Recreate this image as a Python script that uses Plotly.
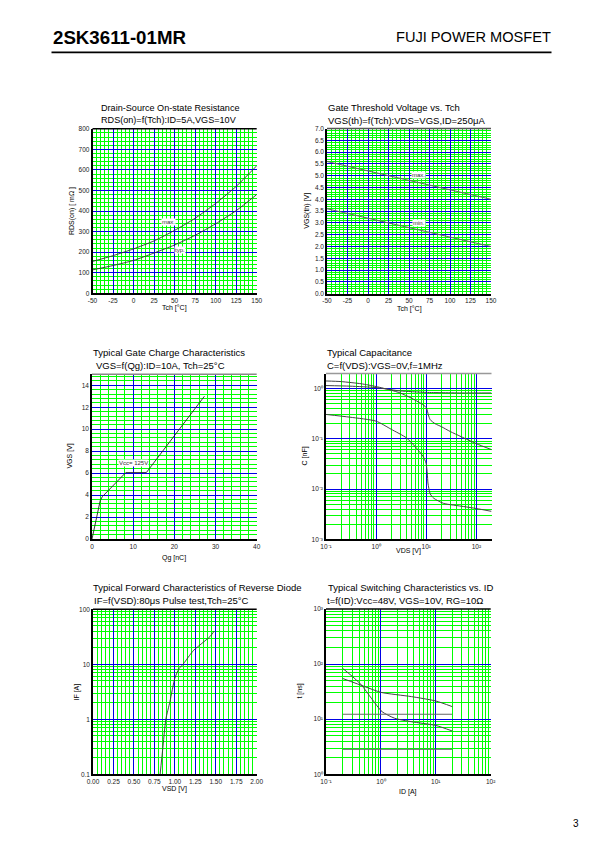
import plotly.graph_objects as go
import numpy as np

# ---------------- data ----------------
# 1) RDS(on) vs Tch
p1_tch = [-50, -25, 0, 25, 50, 75, 100, 125, 150]
p1_max = [155, 183, 216, 255, 306, 365, 437, 520, 620]
p1_typ = [114, 135, 160, 196, 235, 282, 338, 402, 480]

# 2) VGS(th) vs Tch
p2_tch = [-50, 0, 50, 100, 150]
p2_max = [5.6, 5.2, 4.8, 4.4, 4.0]
p2_min = [3.6, 3.2, 2.8, 2.4, 2.0]

# 3) Gate charge
p3_qg = [0, 1.0, 2.0, 2.5, 3.0, 8.2, 13.2, 20.0, 27.3]
p3_vgs = [0, 1.9, 3.5, 3.85, 4.05, 6.05, 6.05, 9.45, 13.0]

# 4) Capacitance
p4_vds_ciss = [0.1, 0.3, 1, 2, 3, 5, 10, 20, 50, 100, 200]
p4_ciss = [1.15, 1.12, 1.05, 0.95, 0.9, 0.87, 0.84, 0.83, 0.82, 0.82, 0.82]
p4_vds_coss = [0.1, 0.2, 0.5, 1, 2, 3, 5, 8, 10, 11, 12, 15, 20, 30, 50, 100, 200]
p4_coss = [1.42, 1.38, 1.25, 1.1, 0.93, 0.82, 0.65, 0.5, 0.42, 0.3, 0.24, 0.2, 0.175, 0.14, 0.11, 0.08, 0.061]
p4_vds_crss = [0.1, 0.3, 1, 2, 4, 6, 8.6, 9.9, 10.5, 10.8, 12, 14, 22, 55, 100, 200]
p4_crss = [0.306, 0.27, 0.225, 0.155, 0.105, 0.07, 0.045, 0.033, 0.02, 0.0132, 0.008, 0.0066, 0.0052, 0.0045, 0.0041, 0.0036]

# 5) Diode forward
p5_vsd = [0.82, 0.85, 0.89, 0.94, 1.0, 1.05, 1.1, 1.18, 1.23, 1.33, 1.43, 1.48]
p5_if = [0.1, 0.27, 1.0, 2.1, 5.6, 8.3, 10, 14.5, 18, 24, 32, 40]

# 6) Switching
p6_id_tf = [0.2, 0.3, 0.44, 0.67, 1.05, 1.78, 3.6, 10, 20]
p6_tf = [84, 60, 42, 24, 13.7, 10.4, 9.0, 7.7, 6.1]
p6_id_tdoff = [0.2, 0.51, 1.0, 3.6, 10, 20]
p6_tdoff = [55, 39, 30.7, 25.7, 21.4, 16.9]
p6_id_flat = [0.2, 20]
p6_tdon = [12.3, 12.3]
p6_tr = [2.84, 2.84]

# tick labels
tch_ticks = [-50, -25, 0, 25, 50, 75, 100, 125, 150]
tch_text = ["-50", "-25", "0", "25", "50", "75", "100", "125", "150"]
p1_yticks = [0, 100, 200, 300, 400, 500, 600, 700, 800]
p2_yticks = [0.0, 0.5, 1.0, 1.5, 2.0, 2.5, 3.0, 3.5, 4.0, 4.5, 5.0, 5.5, 6.0, 6.5, 7.0]
p2_ytext = ["%.1f" % v for v in p2_yticks]
p3_xticks = [0, 10, 20, 30, 40]
p3_yticks = [0, 2, 4, 6, 8, 10, 12, 14]
p4_xticks = [0.1, 1, 10, 100]
p4_xtext = ["10⁻¹", "10⁰", "10¹", "10²"]
p4_yticks = [0.001, 0.01, 0.1, 1]
p4_ytext = ["10⁻³", "10⁻²", "10⁻¹", "10⁰"]
p5_xticks = [0, 0.25, 0.5, 0.75, 1.0, 1.25, 1.5, 1.75, 2.0]
p5_xtext = ["%.2f" % v for v in p5_xticks]
p5_yticks = [0.1, 1, 10, 100]
p5_ytext = ["0.1", "1", "10", "100"]
p6_xticks = [0.1, 1, 10, 100]
p6_xtext = ["10⁻¹", "10⁰", "10¹", "10²"]
p6_yticks = [1, 10, 100, 1000]
p6_ytext = ["10⁰", "10¹", "10²", "10³"]

# ---------------- layout helpers ----------------
W, H = 595, 842
FONT = "Liberation Sans, Arial, Helvetica, sans-serif"
GREEN = "#00ff00"
BLUE = "#0000e6"
TICKF = dict(family=FONT, size=6.5, color="#222")
TS = 9.5  # chart title size


def px(x):
    return x / W


def py(y):
    return 1 - y / H


def log_minor(lo, hi):
    vals = []
    for e in range(lo, hi + 1):
        for d in range(2, 10):
            vals.append(d * 10.0 ** e)
    return vals


boxes = {
    1: (92.5, 256.7, 128.8, 293.3),
    2: (327.0, 491.0, 128.5, 293.7),
    3: (92.0, 256.7, 374.3, 539.0),
    4: (326.0, 491.5, 373.5, 539.3),
    5: (93.0, 256.7, 609.3, 774.3),
    6: (326.0, 490.7, 609.0, 774.3),
}

fig = go.Figure()
layout = dict(
    width=W, height=H, margin=dict(l=0, r=0, t=0, b=0, pad=0), autosize=False,
    paper_bgcolor="white", plot_bgcolor="white", showlegend=False,
    font=dict(family=FONT, color="#000"),
)


def axis_common():
    return dict(showline=True, linecolor="black", linewidth=1.5, ticks="",
                tickfont=TICKF, showgrid=True, gridcolor=BLUE, gridwidth=1.3,
                zeroline=False, tickmode="array", fixedrange=True, automargin=False)


def set_axes(i, xa, ya):
    l, r, t, b = boxes[i]
    sfx = "" if i == 1 else str(i)
    xa.update(domain=[px(l), px(r)], anchor="y" + sfx)
    ya.update(domain=[py(b), py(t)], anchor="x" + sfx)
    layout["xaxis" + sfx] = xa
    layout["yaxis" + sfx] = ya


def lin_minor(dt):
    return dict(dtick=dt, showgrid=True, gridcolor=GREEN, gridwidth=1.2, ticks="")


def list_minor(vals):
    return dict(tickmode="array", tickvals=vals, showgrid=True, gridcolor=GREEN, gridwidth=1.2, ticks="")


# plot 1
xa = axis_common(); ya = axis_common()
xa.update(range=[-50, 150], tickvals=tch_ticks, ticktext=tch_text, minor=lin_minor(5))
ya.update(range=[0, 800], tickvals=p1_yticks, minor=lin_minor(20))
set_axes(1, xa, ya)
# plot 2
xa = axis_common(); ya = axis_common()
xa.update(range=[-50, 150], tickvals=tch_ticks, ticktext=tch_text, minor=lin_minor(5))
ya.update(range=[0, 7], tickvals=p2_yticks, ticktext=p2_ytext, minor=lin_minor(0.1))
set_axes(2, xa, ya)
# plot 3
xa = axis_common(); ya = axis_common()
xa.update(range=[0, 40], tickvals=p3_xticks, minor=lin_minor(2))
ya.update(range=[0, 15], tickvals=p3_yticks, minor=lin_minor(0.4))
set_axes(3, xa, ya)
# plot 4
xa = axis_common(); ya = axis_common()
xa.update(type="log", range=[-1, np.log10(200)], tickvals=p4_xticks, ticktext=p4_xtext,
          minor=list_minor(log_minor(-1, 2)))
ya.update(type="log", range=[-3, np.log10(2)], tickvals=p4_yticks, ticktext=p4_ytext,
          minor=list_minor(log_minor(-3, 0)))
set_axes(4, xa, ya)
# plot 5
xa = axis_common(); ya = axis_common()
xa.update(range=[0, 2], tickvals=p5_xticks, ticktext=p5_xtext, minor=lin_minor(0.05))
ya.update(type="log", range=[-1, 2], tickvals=p5_yticks, ticktext=p5_ytext,
          minor=list_minor(log_minor(-1, 1)))
set_axes(5, xa, ya)
# plot 6
xa = axis_common(); ya = axis_common()
xa.update(type="log", range=[-1, 2], tickvals=p6_xticks, ticktext=p6_xtext,
          minor=list_minor(log_minor(-1, 1)))
ya.update(type="log", range=[0, 3], tickvals=p6_yticks, ticktext=p6_ytext,
          minor=list_minor(log_minor(0, 2)))
set_axes(6, xa, ya)


def add_line(i, x, y, color="#333", width=1.0, shape="spline"):
    sfx = "" if i == 1 else str(i)
    fig.add_trace(go.Scatter(x=x, y=y, mode="lines", xaxis="x" + sfx, yaxis="y" + sfx,
                             line=dict(color=color, width=width, shape=shape, smoothing=0.6),
                             hoverinfo="skip"))


add_line(1, p1_tch, p1_max, "#333", 0.9)
add_line(1, p1_tch, p1_typ, "#333", 0.9)
add_line(2, p2_tch, p2_max, "#666", 1.1, "linear")
add_line(2, p2_tch, p2_min, "#666", 1.1, "linear")
add_line(3, p3_qg, p3_vgs, "#222", 0.9, "linear")
add_line(4, p4_vds_ciss, p4_ciss, "#444", 1.0)
add_line(4, p4_vds_coss, p4_coss, "#444", 1.0)
add_line(4, p4_vds_crss, p4_crss, "#444", 1.0)
add_line(5, p5_vsd, p5_if, "#333", 0.9)
add_line(6, p6_id_tf, p6_tf, "#444", 1.0)
add_line(6, p6_id_tdoff, p6_tdoff, "#444", 1.0)
add_line(6, p6_id_flat, p6_tdon, "#666", 1.0, "linear")
add_line(6, p6_id_flat, p6_tr, "#666", 1.0, "linear")

ann = []
shapes = []


def text(x, y, s, size=TS, anchor="left", angle=0, weight="normal", yanchor="middle"):
    ann.append(dict(x=px(x), y=py(y), xref="paper", yref="paper", text=s, showarrow=False,
                    xanchor=anchor, yanchor=yanchor, textangle=angle, borderpad=0,
                    font=dict(family=FONT, size=size, color="#000", weight=weight)))


def label(i, x, y, s):
    sfx = "" if i == 1 else str(i)
    ann.append(dict(x=x, y=y, xref="x" + sfx, yref="y" + sfx, text=s, showarrow=False,
                    bgcolor="white", borderpad=0, font=dict(family=FONT, size=6, color="#333")))


# header
text(51.5, 37, "2SK3611-01MR", size=18.7, weight="bold")
text(551.5, 37.5, "FUJI POWER MOSFET", size=14.6, anchor="right")
shapes.append(dict(type="line", xref="paper", yref="paper", x0=px(51.5), x1=px(551.5),
                   y0=py(52.3), y1=py(52.3), line=dict(color="black", width=1.8)))
text(580, 823, "3", size=10, anchor="right")

# titles
text(100, 107.7, "Drain-Source On-state Resistance", size=9.1)
text(100, 120.5, "RDS(on)=f(Tch):ID=5A,VGS=10V", size=9.1)
text(326.7, 107.7, "Gate Threshold Voltage vs. Tch")
text(326.7, 120.5, "VGS(th)=f(Tch):VDS=VGS,ID=250μA")
text(92.3, 352.7, "Typical Gate Charge Characteristics")
text(95, 365.5, "VGS=f(Qg):ID=10A, Tch=25°C")
text(326, 352.7, "Typical Capacitance")
text(326, 365.5, "C=f(VDS):VGS=0V,f=1MHz")
text(91.7, 587.7, "Typical Forward Characteristics of Reverse Diode")
text(93.3, 600.5, "IF=f(VSD):80μs Pulse test,Tch=25°C")
text(326.7, 587.7, "Typical Switching Characteristics vs. ID")
text(326, 600.5, "t=f(ID):Vcc=48V, VGS=10V, RG=10Ω")

# axis titles
AX = 7
text(174.6, 308.5, "Tch [°C]", size=AX, anchor="center")
text(72, 211, "RDS(on) [ mΩ ]", size=AX, anchor="center", angle=-90)
text(409, 309, "Tch [°C]", size=AX, anchor="center")
text(306.7, 211, "VGS(th) [V]", size=AX, anchor="center", angle=-90)
text(174.4, 558, "Qg [nC]", size=AX, anchor="center")
text(70, 456.6, "VGS [V]", size=AX, anchor="center", angle=-90)
text(408.7, 551, "VDS [V]", size=AX, anchor="center")
text(305, 456.4, "C [nF]", size=AX, anchor="center", angle=-90)
text(174.9, 789, "VSD [V]", size=AX, anchor="center")
text(76.7, 691.8, "IF [A]", size=AX, anchor="center", angle=-90)
text(408.4, 791.7, "ID [A]", size=AX, anchor="center")
text(300, 691.6, "t [ns]", size=AX, anchor="center", angle=-90)

# curve labels
label(1, 43, 345, "max.")
label(1, 56, 213, "typ.")
label(2, 62, 5.05, "max.")
label(2, 62, 3.0, "min.")
label(3, 10.1, 6.9, "Vcc= 125V")
label(4, 145, 0.58, "Ciss")
label(4, 145, 0.04, "Coss")
label(4, 145, 0.0021, "Crss")
label(6, 0.247, 80, "tf")
label(6, 3.83, 31.7, "td(off)")
label(6, 0.327, 15.1, "td(on)")
label(6, 0.237, 3.4, "tr")

# top border lines
top_cols = {1: "black", 2: "#555", 3: "#888", 4: "#999", 5: "black", 6: "black"}
for i, c in top_cols.items():
    sfx = "" if i == 1 else str(i)
    shapes.append(dict(type="line", xref="x%s domain" % sfx, yref="y%s domain" % sfx,
                       x0=0, x1=1, y0=1, y1=1, line=dict(color=c, width=1.5)))

layout["annotations"] = ann
layout["shapes"] = shapes
fig.update_layout(**layout)
fig.write_html("out.html", config={"responsive": False, "displayModeBar": False},
               post_script="document.body.style.margin='0';document.body.style.overflow='hidden';")
